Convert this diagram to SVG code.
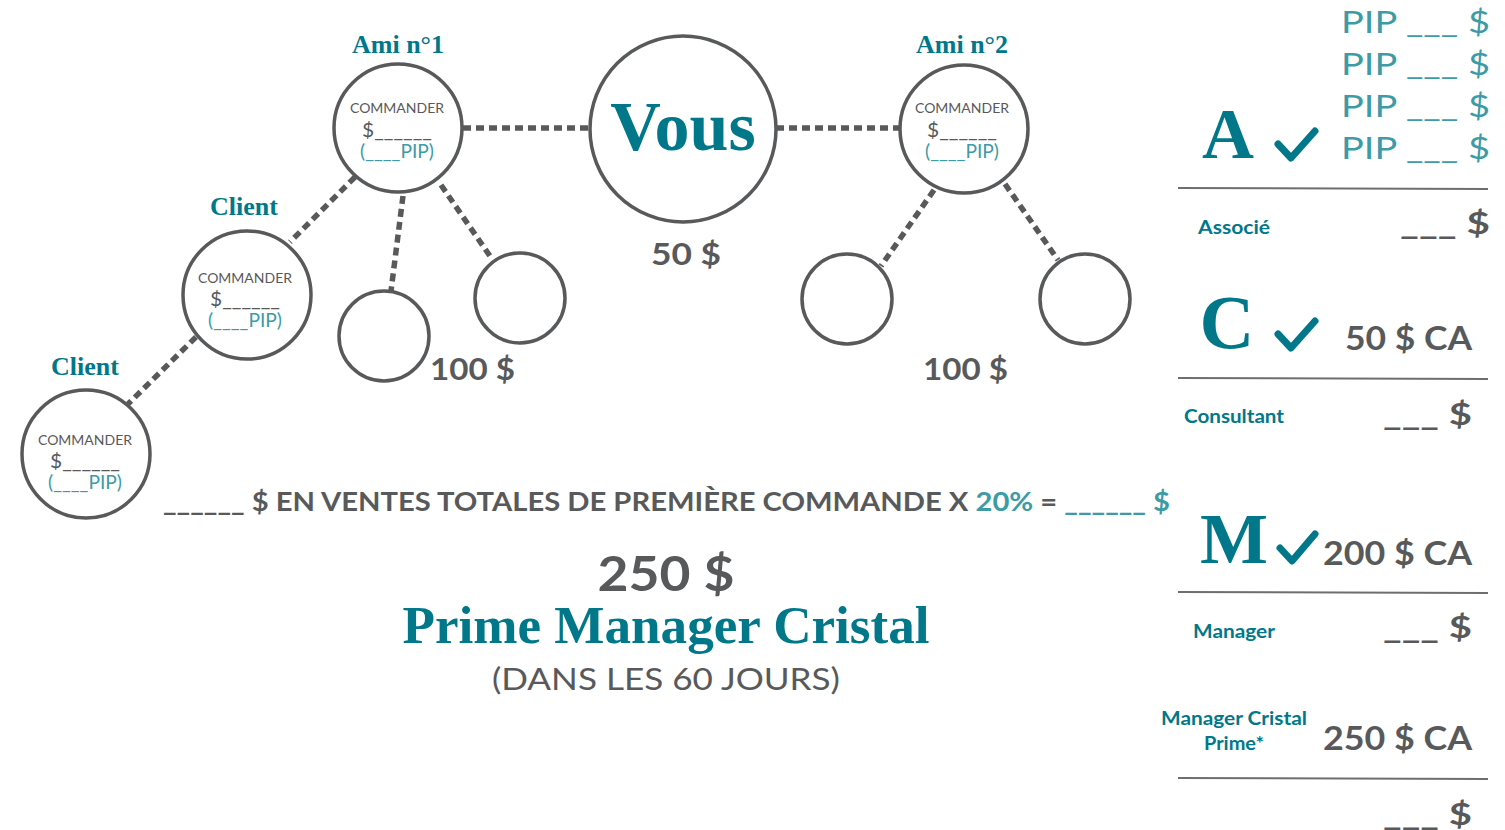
<svg xmlns="http://www.w3.org/2000/svg" width="1505" height="830" viewBox="0 0 1505 830">
<style>
.ring{fill:#fff;stroke:#58595B;stroke-width:3.5}
.dash{stroke:#58595B;stroke-width:5.5;stroke-dasharray:8 5;fill:none}
.serif{font-family:"Liberation Serif","DejaVu Serif",serif;font-weight:bold;fill:#00788A}
.sans{font-family:Lato,"Open Sans","Liberation Sans",sans-serif}
.gray{fill:#58595B}
.lt{fill:#3C9BA6}
.dk{fill:#00788A}
.b{font-weight:bold}
.cmd{font-size:14px;text-anchor:middle}
.amt{font-size:19px;text-anchor:middle}
.chk{fill:none;stroke:#00788A;stroke-width:7;stroke-linecap:round;stroke-linejoin:round}
.rule{stroke:#6D6E70;stroke-width:2}
</style>
<rect width="1505" height="830" fill="#fff"/>
<g id="connectors">
<line class="dash" x1="463" y1="128" x2="590" y2="128"/>
<line class="dash" x1="776" y1="128" x2="900" y2="128"/>
<line class="dash" x1="355" y1="177" x2="290" y2="242"/>
<line class="dash" x1="403" y1="196" x2="391" y2="291"/>
<line class="dash" x1="441" y1="185" x2="492" y2="259"/>
<line class="dash" x1="934" y1="190" x2="881" y2="266"/>
<line class="dash" x1="1005" y1="184" x2="1058" y2="260"/>
<line class="dash" x1="196" y1="337" x2="128" y2="404"/>
</g>
<g id="vous">
<circle class="ring" cx="683" cy="129" r="93"/>
<text class="serif" x="683" y="150" font-size="70" text-anchor="middle">Vous</text>
<text class="sans gray b" x="686" y="265" font-size="31" text-anchor="middle" textLength="70" lengthAdjust="spacingAndGlyphs">50 $</text>
</g>
<g id="ami1">
<text class="serif" x="398" y="53" font-size="26" text-anchor="middle">Ami n°1</text>
<circle class="ring" cx="398" cy="128" r="64"/>
<text class="sans gray cmd" x="397" y="113">COMMANDER</text>
<text class="sans gray amt" x="397" y="137" textLength="70" lengthAdjust="spacingAndGlyphs">$______</text>
<text class="sans lt amt" x="397" y="158" textLength="74" lengthAdjust="spacingAndGlyphs">(____PIP)</text>
</g>
<g id="ami2">
<text class="serif" x="962" y="53" font-size="26" text-anchor="middle">Ami n°2</text>
<circle class="ring" cx="964" cy="129" r="64"/>
<text class="sans gray cmd" x="962" y="113">COMMANDER</text>
<text class="sans gray amt" x="962" y="137" textLength="70" lengthAdjust="spacingAndGlyphs">$______</text>
<text class="sans lt amt" x="962" y="158" textLength="74" lengthAdjust="spacingAndGlyphs">(____PIP)</text>
</g>
<g id="client1">
<text class="serif" x="244" y="215" font-size="26" text-anchor="middle">Client</text>
<circle class="ring" cx="247" cy="295" r="64"/>
<text class="sans gray cmd" x="245" y="283">COMMANDER</text>
<text class="sans gray amt" x="245" y="306" textLength="70" lengthAdjust="spacingAndGlyphs">$______</text>
<text class="sans lt amt" x="245" y="327" textLength="74" lengthAdjust="spacingAndGlyphs">(____PIP)</text>
</g>
<g id="client2">
<text class="serif" x="85" y="375" font-size="26" text-anchor="middle">Client</text>
<circle class="ring" cx="86" cy="454" r="64"/>
<text class="sans gray cmd" x="85" y="445">COMMANDER</text>
<text class="sans gray amt" x="85" y="468" textLength="70" lengthAdjust="spacingAndGlyphs">$______</text>
<text class="sans lt amt" x="85" y="489" textLength="74" lengthAdjust="spacingAndGlyphs">(____PIP)</text>
</g>
<g id="ami1-child1"><circle class="ring" cx="384" cy="336" r="45"/></g>
<g id="ami1-child2"><circle class="ring" cx="520" cy="298" r="45"/></g>
<g id="ami2-child1"><circle class="ring" cx="847" cy="299" r="45"/></g>
<g id="ami2-child2"><circle class="ring" cx="1085" cy="299" r="45"/></g>
<text class="sans gray b" x="430" y="380" font-size="31" textLength="85" lengthAdjust="spacingAndGlyphs">100 $</text>
<text class="sans gray b" x="923" y="380" font-size="31" textLength="85" lengthAdjust="spacingAndGlyphs">100 $</text>
<g id="formula">
<text class="sans b" x="163" y="511" font-size="26" textLength="1007" lengthAdjust="spacingAndGlyphs"><tspan class="gray">______ $ EN VENTES TOTALES DE PREMIÈRE COMMANDE X </tspan><tspan class="lt">20%</tspan><tspan class="gray"> = </tspan><tspan class="lt">______ $</tspan></text>
</g>
<g id="prime">
<text class="sans gray b" x="666" y="591" font-size="48" text-anchor="middle" textLength="137" lengthAdjust="spacingAndGlyphs">250 $</text>
<text class="serif" x="666" y="643" font-size="52" text-anchor="middle" textLength="527" lengthAdjust="spacingAndGlyphs">Prime Manager Cristal</text>
<text class="sans gray" x="666" y="690" font-size="31" text-anchor="middle" textLength="348" lengthAdjust="spacingAndGlyphs">(DANS LES 60 JOURS)</text>
</g>
<g id="panel-associe">
<text class="sans lt" x="1341" y="33" font-size="31" textLength="149" lengthAdjust="spacingAndGlyphs">PIP ___ $</text>
<text class="sans lt" x="1341" y="75" font-size="31" textLength="149" lengthAdjust="spacingAndGlyphs">PIP ___ $</text>
<text class="sans lt" x="1341" y="117" font-size="31" textLength="149" lengthAdjust="spacingAndGlyphs">PIP ___ $</text>
<text class="sans lt" x="1341" y="159" font-size="31" textLength="149" lengthAdjust="spacingAndGlyphs">PIP ___ $</text>
<text class="serif" x="1228" y="158" font-size="72" text-anchor="middle">A</text>
<path class="chk" d="M1278 144 L1291 158 L1315 131"/>
<line class="rule" x1="1178" y1="188" x2="1488" y2="189"/>
<text class="sans dk b" x="1198" y="234" font-size="19" textLength="72" lengthAdjust="spacingAndGlyphs">Associé</text>
<text class="sans gray b" x="1400" y="234" font-size="31" textLength="90" lengthAdjust="spacingAndGlyphs">___ $</text>
</g>
<g id="panel-consultant">
<text class="serif" x="1227" y="348" font-size="76" text-anchor="middle">C</text>
<path class="chk" d="M1278 334 L1291 348 L1315 321"/>
<text class="sans gray b" x="1345" y="350" font-size="32" textLength="127" lengthAdjust="spacingAndGlyphs">50 $ CA</text>
<line class="rule" x1="1178" y1="378" x2="1488" y2="379"/>
<text class="sans dk b" x="1184" y="423" font-size="19" textLength="100" lengthAdjust="spacingAndGlyphs">Consultant</text>
<text class="sans gray b" x="1383" y="425" font-size="31" textLength="89" lengthAdjust="spacingAndGlyphs">___ $</text>
</g>
<g id="panel-manager">
<text class="serif" x="1234" y="563" font-size="72" text-anchor="middle">M</text>
<path class="chk" d="M1280 548 L1292 561 L1315 534"/>
<text class="sans gray b" x="1323" y="565" font-size="32" textLength="149" lengthAdjust="spacingAndGlyphs">200 $ CA</text>
<line class="rule" x1="1178" y1="592" x2="1488" y2="593"/>
<text class="sans dk b" x="1193" y="638" font-size="19" textLength="82" lengthAdjust="spacingAndGlyphs">Manager</text>
<text class="sans gray b" x="1383" y="638" font-size="31" textLength="89" lengthAdjust="spacingAndGlyphs">___ $</text>
</g>
<g id="panel-cristal">
<text class="sans dk b" x="1161" y="725" font-size="19" textLength="146" lengthAdjust="spacingAndGlyphs">Manager Cristal</text>
<text class="sans dk b" x="1204" y="750" font-size="19" textLength="60" lengthAdjust="spacingAndGlyphs">Prime*</text>
<text class="sans gray b" x="1323" y="750" font-size="32" textLength="149" lengthAdjust="spacingAndGlyphs">250 $ CA</text>
<line class="rule" x1="1178" y1="778" x2="1488" y2="779"/>
<text class="sans gray b" x="1383" y="825" font-size="31" textLength="89" lengthAdjust="spacingAndGlyphs">___ $</text>
</g>
</svg>
